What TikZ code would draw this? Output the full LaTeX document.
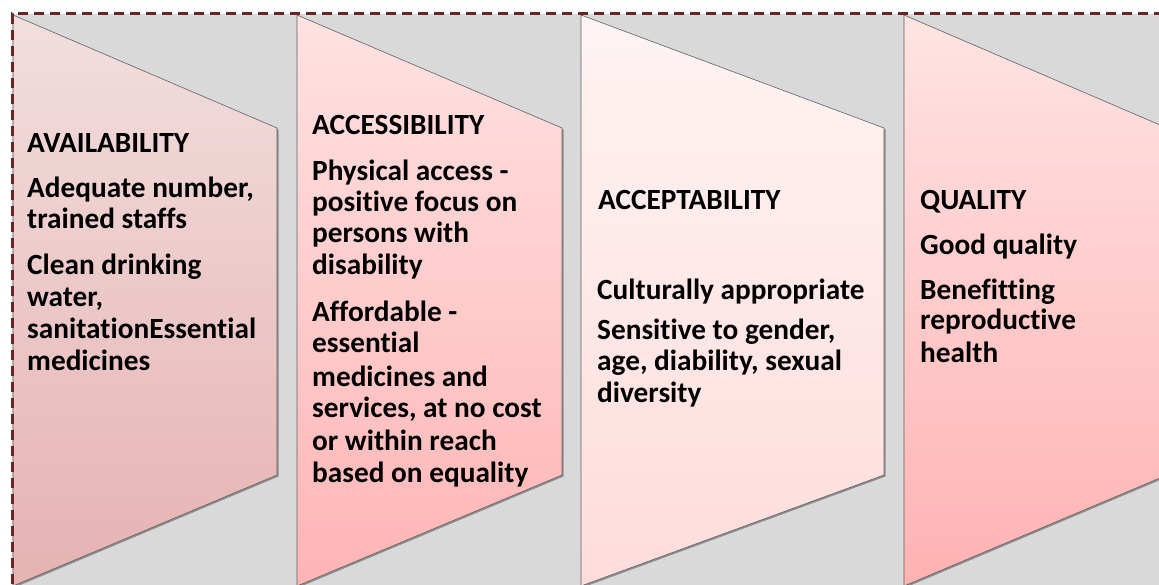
\documentclass[tikz,border=0pt]{standalone}
\usepackage{fontspec}
\setmainfont{Carlito}[Ligatures=NoCommon]
\usetikzlibrary{shadows}
\definecolor{bggray}{HTML}{D9D9D9}
\definecolor{borderred}{HTML}{682624}
\definecolor{aTop}{RGB}{242,222,222}
\definecolor{aBot}{RGB}{230,178,178}
\definecolor{bTop}{RGB}{255,226,226}
\definecolor{bBot}{RGB}{255,180,180}
\definecolor{cTop}{RGB}{255,243,243}
\definecolor{cBot}{RGB}{255,220,220}
\definecolor{dTop}{RGB}{255,228,228}
\definecolor{dBot}{RGB}{255,178,178}
\begin{document}
\begin{tikzpicture}[x=1pt,y=-1pt,
  panel/.style={draw=gray!75!black, line width=0.6pt,
    drop shadow={shadow xshift=1.5pt, shadow yshift=-1.5pt, opacity=0.35, fill=black}},
  txt/.style={anchor=base west, inner sep=0pt, text=black,
    font=\bfseries\fontsize{29.3}{32}\selectfont}]
\useasboundingbox (0,0) rectangle (1159,585);
\clip (0,0) rectangle (1159,585);
\fill[bggray] (12,14) rectangle (1175,600);
% panels
\path[panel, top color=aTop, bottom color=aBot]
  (13,15) -- (277,128) -- (277,475) -- (13,586) -- cycle;
\path[panel, top color=bTop, bottom color=bBot]
  (297,15) -- (562,128) -- (562,475) -- (297,586) -- cycle;
\path[panel, top color=cTop, bottom color=cBot]
  (581,15) -- (884,128) -- (884,475) -- (581,586) -- cycle;
\path[panel, top color=dTop, bottom color=dBot]
  (904,15) -- (1167,128) -- (1167,475) -- (904,586) -- cycle;
% border
\draw[borderred, line width=3pt, dash pattern=on 10pt off 6pt]
  (12,600) -- (12,14) -- (1175,14);
% panel 1 text
\node[txt] (a0) at (27,153) {AVAILABILITY};
\node[txt] (a1) at (27,198) {Adequate number,};
\node[txt] (a2) at (27,229) {trained staffs};
\node[txt] (a3) at (27,275) {Clean drinking};
\node[txt] (a4) at (27,306) {water,};
\node[txt] (a5) at (27,338) {sanitationEssential};
\node[txt] (a6) at (27,370) {medicines};
% panel 2 text
\node[txt] (b0) at (312,135) {ACCESSIBILITY};
\node[txt] (b1) at (312,181) {Physical access -};
\node[txt] (b2) at (312,212) {positive focus on};
\node[txt] (b3) at (312,243) {persons with};
\node[txt] (b4) at (312,275) {disability};
\node[txt] (b5) at (312,321) {Affordable -};
\node[txt] (b6) at (312,352) {essential};
\node[txt] (b7) at (312,386) {medicines and};
\node[txt] (b8) at (312,417) {services, at no cost};
\node[txt] (b9) at (312,450) {or within reach};
\node[txt] (b10) at (312,482) {based on equality};
% panel 3 text
\node[txt] (c0) at (598,210) {ACCEPTABILITY};
\node[txt] (c1) at (597,300) {Culturally appropriate};
\node[txt] (c2) at (597,339) {Sensitive to gender,};
\node[txt] (c3) at (597,370) {age, diability, sexual};
\node[txt] (c4) at (597,402) {diversity};
% panel 4 text
\node[txt] (d0) at (920,210) {QUALITY};
\node[txt] (d1) at (920,255) {Good quality};
\node[txt] (d2) at (920,299) {Benefitting};
\node[txt] (d3) at (920,330) {reproductive};
\node[txt] (d4) at (920,362) {health};
\end{tikzpicture}
\end{document}
